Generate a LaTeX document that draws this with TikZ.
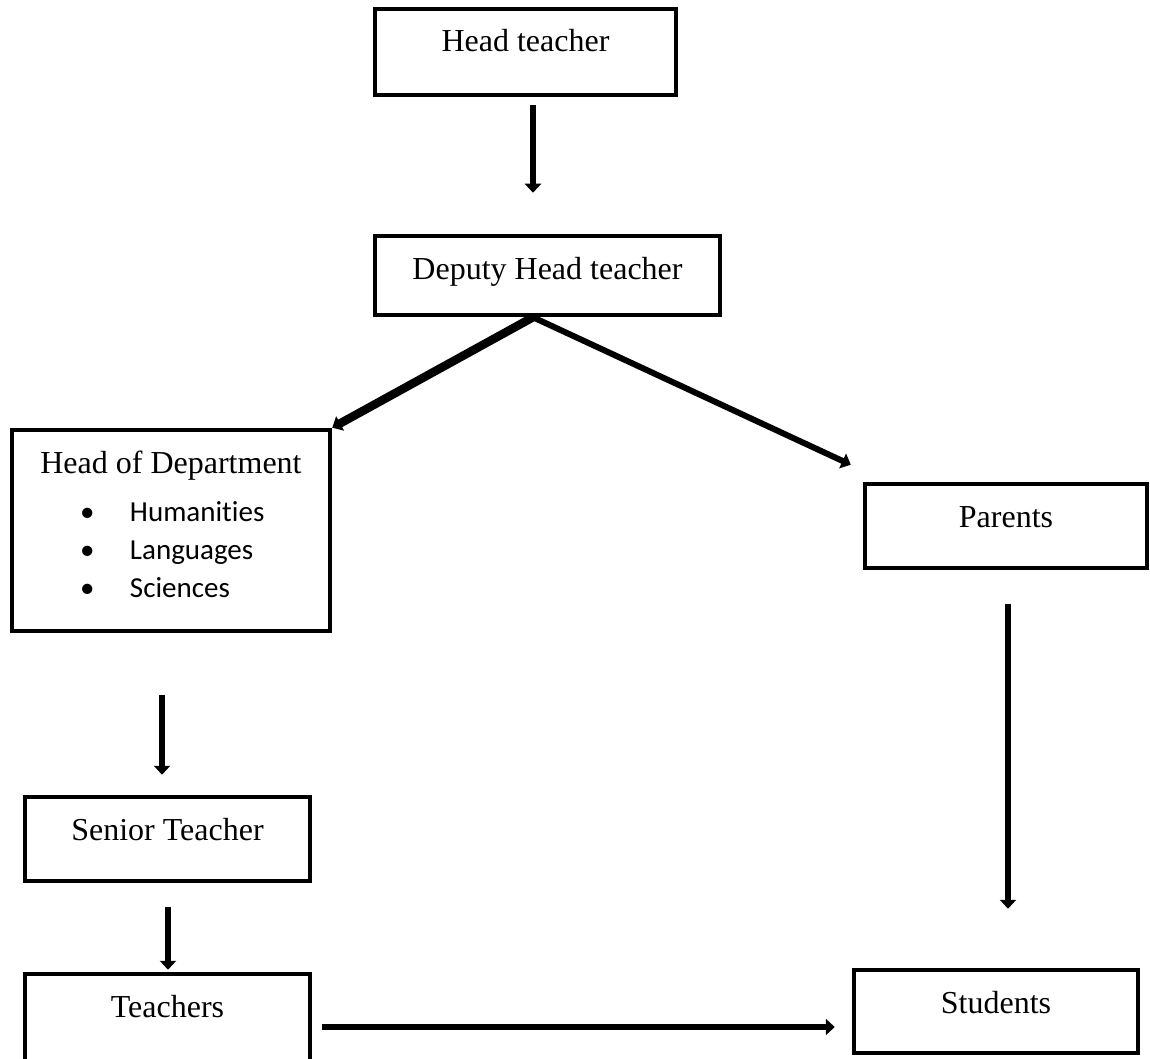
\documentclass[tikz,border=0pt]{standalone}
\usepackage{fontspec}
\setmainfont{Liberation Serif}
\newfontfamily\listfont[Ligatures=NoCommon]{Carlito}
\usetikzlibrary{arrows.meta}

\begin{document}
\begin{tikzpicture}[
        x=1pt, y=-1pt,
        % Styles
        box/.style={
            rectangle,
            draw=black,
            line width=4.5pt,
            inner sep=0pt,
            text height=43pt,
            font=\fontsize{32}{38}\selectfont
        },
        arrow/.style={
            -{Triangle[width=16pt,length=9pt]},
            line width=6.5pt
        }
    ]
    \useasboundingbox (0,0) rectangle (1150,1059);

    % Head teacher Box
    \node[box, minimum width=301pt, text depth=43pt] (head) at (525.5,52) {Head teacher};

    % Deputy Box
    \node[box, minimum width=345pt, text depth=36pt] (deputy) at (547.5,275.5) {Deputy Head teacher};

    % Head of Department Box with its list
    \node[box, minimum width=318pt, text depth=158pt] (hod) at (171,530.5) {%
        \parbox[t]{318pt}{\centering Head of Department\par
            \vspace{10pt}\raggedright\listfont\fontsize{29}{38}\selectfont
            \makebox[118pt][l]{\hspace*{68pt}•}Humanities\par
            \makebox[118pt][l]{\hspace*{68pt}•}Languages\par
            \makebox[118pt][l]{\hspace*{68pt}•}Sciences\par}};

    % Parents Box
    \node[box, minimum width=282pt, text depth=41pt] (parents) at (1006,526) {Parents};

    % Senior Teacher Box
    \node[box, minimum width=285pt, text depth=41pt] (senior) at (167.5,839) {Senior Teacher};

    % Teachers Box (runs off the bottom)
    \node[box, minimum width=285pt, text depth=48pt] (teachers) at (167.5,1019.5) {Teachers};

    % Students Box
    \node[box, minimum width=284pt, text depth=40pt] (students) at (996,1011.5) {Students};

    % Arrows
    \draw[arrow, shorten <=8pt, shorten >=41pt] ([xshift=7.5pt]head.south) -- ([xshift=7.5pt]head.south |- deputy.north);
    \draw[arrow, line width=8.5pt] ([xshift=-14.5pt]deputy.south) -- (hod.north east);
    \draw[arrow, line width=6pt] ([xshift=-14.5pt]deputy.south) -- ([shift={(-12pt,17pt)}]parents.north west);
    \draw[arrow, shorten <=62pt, shorten >=20pt] ([xshift=-9pt]hod.south) -- ([xshift=-9pt]hod.south |- senior.north);
    \draw[arrow, shorten <=24pt, shorten >=2pt] ([xshift=0.5pt]senior.south) -- ([xshift=0.5pt]teachers.north);
    \draw[arrow, shorten <=34pt, shorten >=59pt] ([xshift=2pt]parents.south) -- ([xshift=2pt]parents.south |- students.north);
    \draw[arrow, shorten <=10pt, shorten >=17pt] ([yshift=-7.5pt]teachers.east) -- ([yshift=-7.5pt]teachers.east -| students.west);

\end{tikzpicture}
\end{document}
